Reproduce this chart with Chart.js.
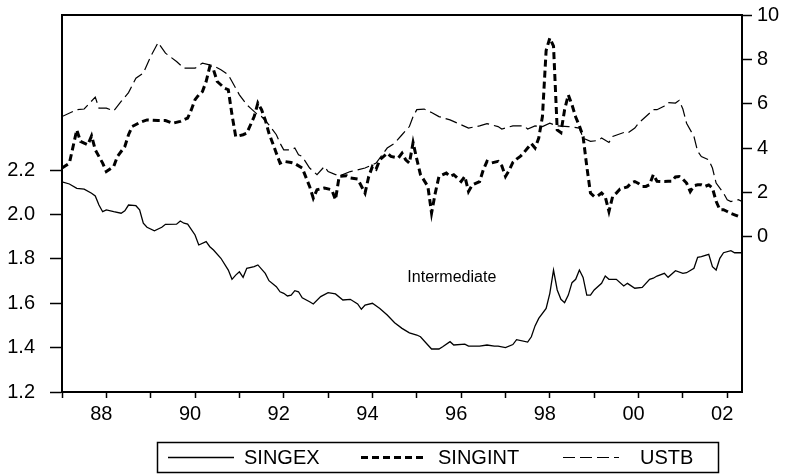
<!DOCTYPE html>
<html>
<head>
<meta charset="utf-8">
<script src="https://cdn.jsdelivr.net/npm/chart.js@4.4.1/dist/chart.umd.min.js"></script>
<style>
  html, body { margin: 0; padding: 0; background: #ffffff; }
  #wrap { width: 790px; height: 475px; }
</style>
</head>
<body>
<div id="wrap"><canvas id="chart" width="790" height="475"></canvas></div>
<script>
// Singapore exchange rate (left axis) and interest rates (right axis), monthly 1987-2002
const singexDates = ['1987-01','1987-03','1987-05','1987-07','1987-09','1987-10','1987-11','1987-12',
  '1988-01','1988-03','1988-05','1988-06','1988-07','1988-09','1988-10','1988-11','1988-12',
  '1989-02','1989-04','1989-05','1989-08','1989-09','1989-10','1989-11',
  '1990-01','1990-02','1990-04','1990-05','1990-06','1990-08','1990-10','1990-11','1990-12',
  '1991-01','1991-02','1991-03','1991-05','1991-06','1991-08','1991-09','1991-11','1991-12',
  '1992-01','1992-02','1992-03','1992-04','1992-05','1992-06','1992-08','1992-09','1992-11',
  '1993-01','1993-03','1993-05','1993-07','1993-09','1993-10','1993-11',
  '1994-01','1994-03','1994-05','1994-07','1994-09','1994-11',
  '1995-01','1995-02','1995-04','1995-05','1995-07','1995-08','1995-10','1995-11',
  '1996-02','1996-03','1996-06','1996-08','1996-10','1996-11',
  '1997-01','1997-03','1997-04','1997-07','1997-08','1997-09','1997-10','1997-12',
  '1998-01','1998-02','1998-03','1998-04','1998-05','1998-06','1998-07','1998-08','1998-09','1998-10','1998-11','1998-12',
  '1999-01','1999-03','1999-04','1999-05','1999-07','1999-09','1999-10','1999-12',
  '2000-02','2000-04','2000-05','2000-06','2000-08','2000-09','2000-11',
  '2001-01','2001-02','2001-04','2001-05','2001-06','2001-08','2001-09','2001-10','2001-11','2001-12',
  '2002-02','2002-03','2002-05'];
const singexValues = [2.148,2.138,2.118,2.115,2.096,2.084,2.043,2.013,
  2.021,2.013,2.006,2.017,2.043,2.040,2.021,1.961,1.943,
  1.927,1.943,1.956,1.957,1.971,1.961,1.957,
  1.908,1.863,1.878,1.855,1.840,1.803,1.750,1.708,1.727,
  1.742,1.717,1.758,1.765,1.773,1.735,1.702,1.675,1.652,
  1.645,1.633,1.637,1.657,1.652,1.625,1.607,1.597,1.630,
  1.648,1.642,1.615,1.618,1.597,1.573,1.592,
  1.600,1.577,1.547,1.512,1.487,1.467,
  1.457,1.449,1.412,1.394,1.394,1.404,1.427,1.412,
  1.416,1.407,1.407,1.412,1.407,1.407,
  1.400,1.414,1.436,1.425,1.449,1.498,1.532,1.577,
  1.645,1.750,1.660,1.618,1.603,1.637,1.693,1.708,1.750,1.717,1.637,1.637,
  1.660,1.690,1.723,1.708,1.708,1.678,1.690,1.668,
  1.672,1.708,1.713,1.723,1.735,1.717,1.747,
  1.735,1.738,1.758,1.807,1.810,1.821,1.765,1.750,1.803,1.828,
  1.837,1.828,1.828];

const singintDates = ['1987-01','1987-03','1987-04','1987-05','1987-06','1987-08','1987-09','1987-10','1987-12',
  '1988-01','1988-03','1988-04','1988-06','1988-07','1988-08','1988-10','1988-12',
  '1989-03','1989-05','1989-07','1989-09','1989-11','1989-12',
  '1990-01','1990-02','1990-03','1990-04','1990-05','1990-06','1990-07','1990-09','1990-10','1990-11','1990-12',
  '1991-02','1991-03','1991-05','1991-06','1991-07','1991-08','1991-09','1991-11','1991-12',
  '1992-01','1992-03','1992-04','1992-06','1992-08','1992-09','1992-10','1992-12',
  '1993-02','1993-03','1993-04','1993-06','1993-07','1993-09','1993-11','1993-12',
  '1994-01','1994-02','1994-03','1994-05','1994-06','1994-08','1994-09','1994-10','1994-11','1994-12',
  '1995-01','1995-02','1995-04','1995-05','1995-06','1995-07','1995-09','1995-10','1995-11',
  '1996-01','1996-02','1996-03','1996-04','1996-06','1996-07','1996-08','1996-09','1996-11','1996-12',
  '1997-01','1997-02','1997-03','1997-04','1997-05','1997-06','1997-07','1997-08','1997-09','1997-10','1997-11','1997-12',
  '1998-01','1998-02','1998-03','1998-04','1998-05','1998-06','1998-07','1998-08','1998-09','1998-10','1998-11','1998-12',
  '1999-01','1999-02','1999-03','1999-04','1999-05','1999-06','1999-07','1999-08','1999-09','1999-10','1999-11','1999-12',
  '2000-01','2000-02','2000-03','2000-04','2000-05','2000-06','2000-07','2000-08','2000-09','2000-10','2000-11','2000-12',
  '2001-01','2001-02','2001-03','2001-04','2001-05','2001-06','2001-07','2001-08','2001-09','2001-10','2001-11','2001-12',
  '2002-01','2002-02','2002-03','2002-04','2002-05'];
const singintValues = [3.10,3.32,4.07,4.82,4.30,4.15,4.55,3.92,3.32,
  2.94,3.17,3.62,4.07,4.60,4.97,5.15,5.27,
  5.24,5.24,5.12,5.20,5.35,5.73,
  6.18,6.40,6.55,7.00,7.68,7.53,7.00,6.70,6.63,5.50,4.52,
  4.60,4.67,5.42,6.03,5.73,5.27,4.67,3.77,3.32,
  3.40,3.35,3.30,3.10,2.27,1.74,2.12,2.20,
  2.12,1.67,2.72,2.75,2.65,2.60,1.97,2.72,
  3.17,3.05,3.47,3.77,3.62,3.55,3.77,3.47,3.32,4.25,
  3.50,2.80,2.27,1.07,1.97,2.72,2.87,2.72,2.80,
  2.49,2.72,2.04,2.34,2.49,3.02,3.40,3.32,3.40,3.20,
  2.72,3.00,3.35,3.50,3.62,3.80,4.00,4.20,4.00,4.45,5.42,8.40,
  8.96,8.60,4.82,4.70,5.73,6.40,5.95,5.40,5.00,4.52,3.17,1.97,
  1.82,1.85,1.97,1.80,1.14,1.82,1.97,2.15,2.20,2.25,2.42,2.49,
  2.40,2.27,2.27,2.35,2.80,2.50,2.49,2.49,2.50,2.50,2.70,2.72,
  2.60,2.42,2.04,2.30,2.34,2.34,2.27,2.34,2.20,1.60,1.22,1.22,
  1.14,1.05,0.99,0.92,0.90];

const ustbDates = ['1987-01','1987-05','1987-07','1987-10','1987-11',
  '1988-01','1988-03','1988-05','1988-07','1988-09','1988-11',
  '1989-01','1989-03','1989-05','1989-08','1989-10',
  '1990-01','1990-03','1990-06','1990-08','1990-10','1990-11',
  '1991-01','1991-03','1991-04','1991-06','1991-07','1991-09','1991-11','1991-12',
  '1992-01','1992-03','1992-04','1992-05','1992-06','1992-08','1992-10','1992-12',
  '1993-01','1993-03','1993-05','1993-07','1993-09','1993-11',
  '1994-02','1994-05','1994-07','1994-09','1994-11','1994-12',
  '1995-01','1995-03','1995-05','1995-07','1995-10',
  '1996-01','1996-03','1996-06','1996-08','1996-11','1996-12',
  '1997-03','1997-06','1997-07','1997-09','1997-11',
  '1998-01','1998-03','1998-06','1998-09','1998-10','1998-12',
  '1999-02','1999-03','1999-05','1999-06','1999-09','1999-10','1999-12',
  '2000-01','2000-03','2000-05','2000-06','2000-08','2000-09','2000-11','2000-12',
  '2001-01','2001-02','2001-04','2001-05','2001-06','2001-08','2001-09','2001-10','2001-12',
  '2002-01','2002-02','2002-04','2002-05'];
const ustbValues = [5.42,5.73,5.76,6.30,5.80,
  5.80,5.68,6.10,6.50,7.15,7.38,
  8.13,8.76,8.28,7.90,7.60,
  7.60,7.83,7.71,7.53,7.30,7.00,
  6.40,5.95,5.80,5.50,5.42,5.05,4.60,4.22,
  3.92,3.92,4.00,3.70,3.62,3.10,2.80,3.17,
  2.94,2.80,2.80,2.94,3.02,3.10,
  3.32,4.00,4.22,4.60,4.97,5.42,
  5.73,5.76,5.60,5.42,5.27,
  5.05,4.90,5.00,5.10,4.97,4.86,
  5.00,5.00,4.86,5.00,4.97,
  5.12,5.00,4.97,4.90,4.45,4.30,
  4.34,4.45,4.25,4.52,4.70,4.67,4.90,
  5.12,5.42,5.73,5.73,5.90,6.05,6.03,6.15,
  5.76,5.12,4.52,3.85,3.62,3.47,3.10,2.42,1.97,
  1.67,1.59,1.67,1.59];

// Axis ticks
const yearTicks = [1987,1988,1989,1990,1991,1992,1993,1994,1995,1996,1997,1998,1999,2000,2001,2002];
const leftTicks = [1.2,1.4,1.6,1.8,2.0,2.2];
const rightTicks = [0,2,4,6,8,10];

// Series names and the in-plot note
const seriesNames = ['SINGEX','SINGINT','USTB'];
const noteText = 'Intermediate';
const notePosition = { year: 1995.79, level: 1.697 };

const FONT = 'Liberation Sans, Arial, Helvetica, sans-serif';
const TICK_SIZE = 20;

function toYear(s) {
  const [y, m] = s.split('-').map(Number);
  return y + (m - 1) / 12;
}
function points(dates, values) {
  return dates.map((d, i) => ({ x: toYear(d), y: values[i] }));
}

// Fixed axis sizes so the plot frame sits at 62..742 x 15..392
function fixBox(size, key) {
  return (s) => {
    s[key] = size;
    s.paddingTop = 0; s.paddingBottom = 0; s.paddingLeft = 0; s.paddingRight = 0;
  };
}

const lineStyles = [
  { borderWidth: 1.3, borderDash: [] },
  { borderWidth: 3, borderDash: [7, 4] },
  { borderWidth: 1.2, borderDash: [12, 5] }
];

// Boxed legend under the axis and the text note inside the plot
const extrasPlugin = {
  id: 'extras',
  afterDraw(chart) {
    const ctx = chart.ctx;
    const xs = chart.scales.x, yl = chart.scales.yLeft;
    ctx.save();
    ctx.fillStyle = '#000';
    ctx.font = '16px ' + FONT;
    ctx.textAlign = 'center';
    ctx.textBaseline = 'alphabetic';
    ctx.fillText(noteText, xs.getPixelForValue(notePosition.year), yl.getPixelForValue(notePosition.level));

    // legend box
    ctx.lineWidth = 1.5;
    ctx.strokeStyle = '#000';
    ctx.setLineDash([]);
    ctx.strokeRect(157.5, 442.5, 561, 30);
    const items = [
      { x0: 168, x1: 234, tx: 244 },
      { x0: 361, x1: 425, tx: 438 },
      { x0: 563, x1: 619, tx: 640 }
    ];
    ctx.font = TICK_SIZE + 'px ' + FONT;
    ctx.textAlign = 'left';
    ctx.textBaseline = 'middle';
    items.forEach((it, i) => {
      ctx.beginPath();
      ctx.lineWidth = lineStyles[i].borderWidth;
      ctx.setLineDash(lineStyles[i].borderDash);
      ctx.moveTo(it.x0, 457.5);
      ctx.lineTo(it.x1, 457.5);
      ctx.stroke();
      ctx.setLineDash([]);
      ctx.fillText(seriesNames[i], it.tx, 458);
    });
    ctx.restore();
  }
};

const xMin = 1987, xMax = 2002 + 4 / 12;

new Chart(document.getElementById('chart'), {
  type: 'line',
  data: {
    datasets: [
      { label: seriesNames[0], data: points(singexDates, singexValues), yAxisID: 'yLeft',
        borderColor: '#000', ...lineStyles[0] },
      { label: seriesNames[1], data: points(singintDates, singintValues), yAxisID: 'yRight',
        borderColor: '#000', ...lineStyles[1] },
      { label: seriesNames[2], data: points(ustbDates, ustbValues), yAxisID: 'yRight',
        borderColor: '#000', ...lineStyles[2] }
    ]
  },
  options: {
    responsive: false,
    devicePixelRatio: 1,
    animation: false,
    layout: { padding: 0 },
    elements: { point: { radius: 0 }, line: { tension: 0, borderCapStyle: 'butt' } },
    plugins: { legend: { display: false }, tooltip: { enabled: false } },
    scales: {
      x: {
        type: 'linear', position: 'bottom', min: xMin, max: xMax,
        afterBuildTicks: (axis) => { axis.ticks = yearTicks.map(v => ({ value: v })); },
        afterFit: fixBox(83, 'height'),
        grid: { drawOnChartArea: false, drawTicks: true, tickLength: 6, tickColor: '#000', tickWidth: 1.5 },
        border: { display: true, color: '#000', width: 2 },
        ticks: {
          autoSkip: false, maxRotation: 0, padding: 4, labelOffset: -5,
          color: '#000', font: { family: FONT, size: TICK_SIZE },
          callback: (v) => (v % 2 === 0 ? String(v % 100).padStart(2, '0') : '')
        }
      },
      xTop: {
        type: 'linear', position: 'top', min: xMin, max: xMax,
        afterFit: fixBox(15, 'height'),
        grid: { display: false },
        border: { display: true, color: '#000', width: 2 },
        ticks: { display: false }
      },
      yLeft: {
        type: 'linear', position: 'left', min: 1.2, max: 2.9,
        afterBuildTicks: (axis) => { axis.ticks = leftTicks.map(v => ({ value: v })); },
        afterFit: fixBox(62, 'width'),
        grid: { drawOnChartArea: false, drawTicks: true, tickLength: 12, tickColor: '#000', tickWidth: 1.5 },
        border: { display: true, color: '#000', width: 2 },
        ticks: { padding: 15, color: '#000', font: { family: FONT, size: TICK_SIZE },
          callback: (v) => Number(v).toFixed(1) }
      },
      yRight: {
        type: 'linear', position: 'right', min: -7, max: 10,
        afterBuildTicks: (axis) => { axis.ticks = rightTicks.map(v => ({ value: v })); },
        afterFit: fixBox(48, 'width'),
        grid: { drawOnChartArea: false, drawTicks: true, tickLength: 10, tickColor: '#000', tickWidth: 1.5 },
        border: { display: true, color: '#000', width: 2 },
        ticks: { padding: 5, color: '#000', font: { family: FONT, size: TICK_SIZE },
          callback: (v) => String(v) }
      }
    }
  },
  plugins: [extrasPlugin]
});
</script>
</body>
</html>
